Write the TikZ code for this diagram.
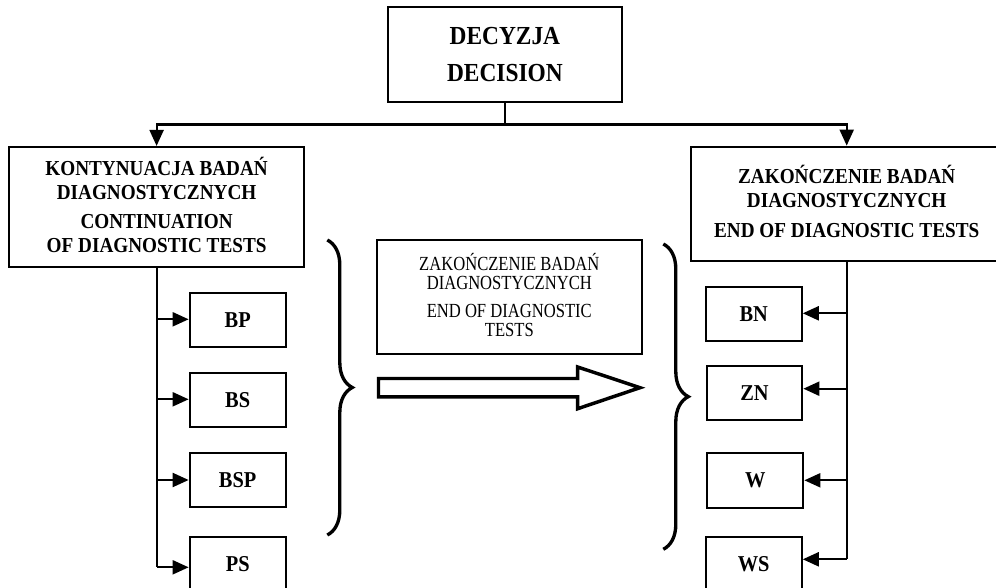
\documentclass[tikz,border=0pt]{standalone}
\usepackage{fontspec}
\setmainfont{Liberation Serif}
\newfontfamily\headfont[FakeStretch=0.9]{Liberation Serif}
\newfontfamily\notefont[FakeStretch=0.83]{Liberation Serif}
\usetikzlibrary{arrows.meta,decorations.pathreplacing}
% first line with an accent: keep only the cap height for centring
\newcommand\capline[1]{\smash{#1}\vphantom{H}}

\begin{document}
\begin{tikzpicture}[x=0.75pt,y=-0.75pt,
  box/.style={draw,line width=1.6pt,inner sep=0pt,align=center},
  sz/.style 2 args={minimum width=#1*0.75pt,minimum height=#2*0.75pt},
  headtext/.style={font=\headfont\bfseries\fontsize{16}{18}\selectfont},
  toptext/.style={font=\headfont\bfseries\fontsize{19.5}{27.5}\selectfont},
  codetext/.style={font=\headfont\bfseries\fontsize{17}{20}\selectfont},
  notetext/.style={font=\notefont\fontsize{15}{14.4}\selectfont},
  link/.style={line width=1.6pt},
  arr/.style={link,-{Triangle[length=12pt,width=10.5pt]}},
  bracket/.style={line width=2.5pt,decorate,
    decoration={brace,amplitude=18.75pt,aspect=0.5}},
]
\useasboundingbox (0,0) rectangle (996,588);

% top decision
\node[box,toptext,sz={233.7}{95}] (dec) at (504.9,54.4) {DECYZJA\\DECISION};

% the two branches
\node[box,headtext,sz={295}{120}] (cont) at (156.6,207)
  {\capline{KONTYNUACJA BADAŃ}\\DIAGNOSTYCZNYCH\\[3.5pt]CONTINUATION\\OF DIAGNOSTIC TESTS};
\node[box,headtext,sz={311.4}{114}] (fin) at (846.7,203.7)
  {\capline{ZAKOŃCZENIE BADAŃ}\\DIAGNOSTYCZNYCH\\[4pt]END OF DIAGNOSTIC TESTS};

\coordinate (split) at (504.9,124.5);
\draw[link] (dec.south) -- (split);
\draw[arr] (split) -| (cont.north);
\draw[arr] (split) -| (fin.north);

% middle note
\node[box,notetext,sz={264.7}{114.3}] (note) at (509.3,297.2)
  {\capline{ZAKOŃCZENIE BADAŃ}\\DIAGNOSTYCZNYCH\\[6.8pt]END OF DIAGNOSTIC\\TESTS};

% left group
\node[box,codetext,sz={96}{54}]   (bp)  at (237.7,319.7) {BP};
\node[box,codetext,sz={96}{53.7}] (bs)  at (237.7,399.85) {BS};
\node[box,codetext,sz={96}{54}]   (bsp) at (237.7,480.3) {BSP};
\node[box,codetext,sz={96}{54}]   (ps)  at (237.7,563.7) {PS};

\coordinate (ybp)  at (0,319.3);
\coordinate (ybs)  at (0,399.3);
\coordinate (ybsp) at (0,480);
\coordinate (yps)  at (0,567.3);
\draw[link] (cont.south) -- (cont.south |- yps);
\draw[arr] (cont.south |- ybp)  -- (bp.west |- ybp);
\draw[arr] (cont.south |- ybs)  -- (bs.west |- ybs);
\draw[arr] (cont.south |- ybsp) -- (bsp.west |- ybsp);
\draw[arr] (cont.south |- yps)  -- (ps.west |- yps);

% right group
\node[box,codetext,sz={96}{54.3}] (bn) at (753.7,313.8) {BN};
\node[box,codetext,sz={95.6}{53.7}] (zn) at (754.5,393.2) {ZN};
\node[box,codetext,sz={96}{54.7}] (w)  at (755.3,480.3) {W};
\node[box,codetext,sz={96}{54}]   (ws) at (753.7,563.7) {WS};

\coordinate (ybn) at (0,313.3);
\coordinate (yzn) at (0,388.7);
\coordinate (yw)  at (0,480.3);
\coordinate (yws) at (0,559.3);
\draw[link] (fin.south) -- (fin.south |- yws);
\draw[arr] (fin.south |- ybn) -- (bn.east |- ybn);
\draw[arr] (fin.south |- yzn) -- (zn.east |- yzn);
\draw[arr] (fin.south |- yw)  -- (w.east |- yw);
\draw[arr] (fin.south |- yws) -- (ws.east |- yws);

% braces
\draw[bracket] (327.3,240) -- (327.3,535);
\draw[bracket] (663.3,244) -- (663.3,549.3);

% hollow block arrow
\draw[line width=2.6pt,miter limit=10]
  (378.5,378.5) -- (577.7,378.5) -- (577.7,367) -- (640,387.7)
  -- (577.7,408.7) -- (577.7,396.8) -- (378.5,396.8) -- cycle;
\end{tikzpicture}
\end{document}
